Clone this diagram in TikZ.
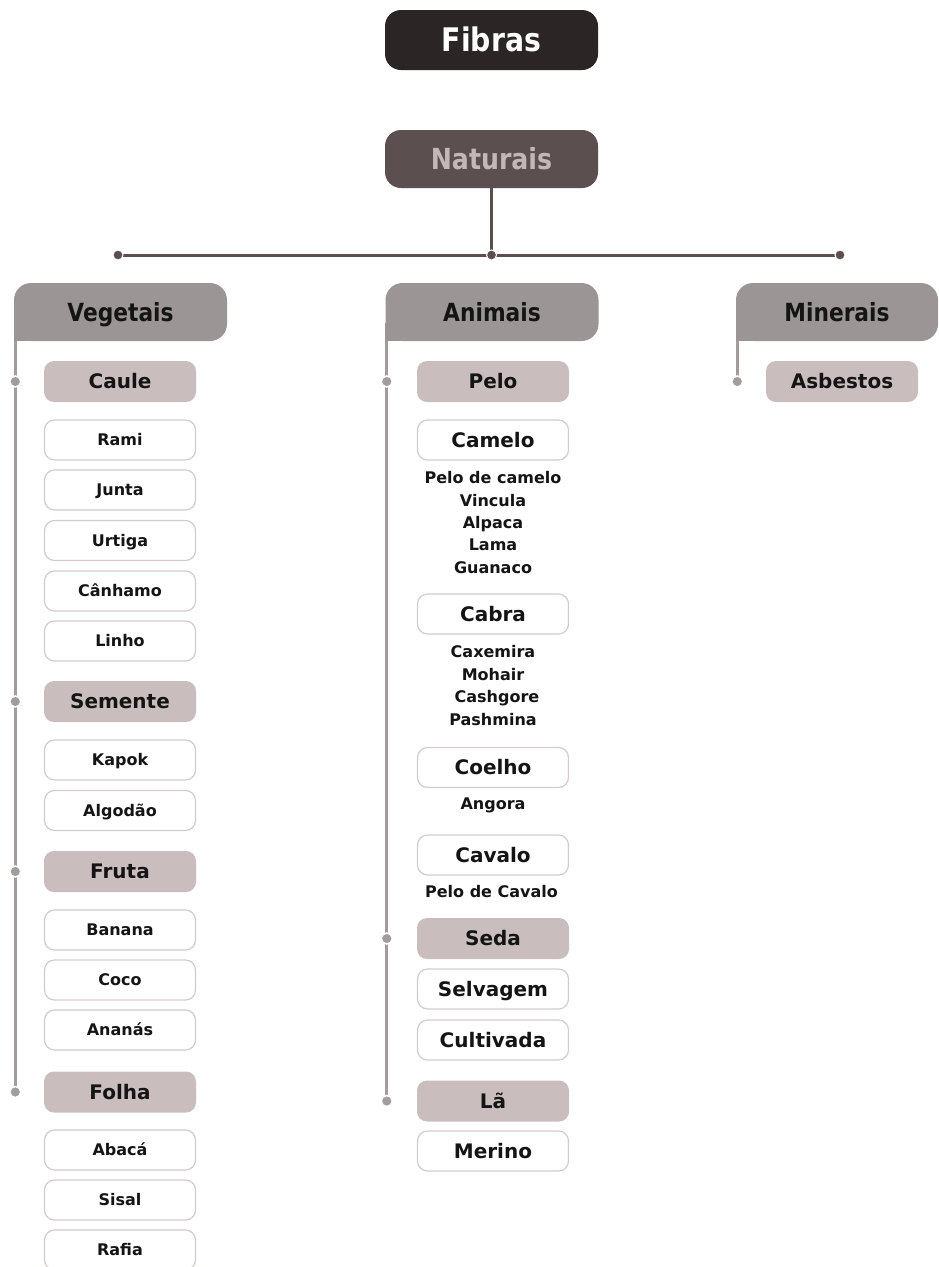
\documentclass[tikz,border=0pt]{standalone}
\usepackage{fontspec}
\setmainfont{DejaVu Sans}
\newfontfamily\narrowfont{DejaVu Sans}[FakeStretch=0.87]
\definecolor{ink}{HTML}{2C2525}
\definecolor{natfill}{HTML}{5B4F4F}
\definecolor{nattext}{HTML}{C3B7B7}
\definecolor{titlefill}{HTML}{9C9595}
\definecolor{catfill}{HTML}{C9BDBD}
\definecolor{itemline}{HTML}{D5CBCB}
\definecolor{hubline}{HTML}{5B4F4F}
\definecolor{branchline}{HTML}{A29C9C}
\definecolor{txt}{HTML}{141414}
\begin{document}
\begin{tikzpicture}[x=1pt,y=-1pt,
  base/.style={inner sep=0pt, text=txt},
  fs/.style={font=\bfseries\fontsize{#1}{#1}\selectfont},
  nfs/.style={font=\narrowfont\bfseries\fontsize{#1}{#1}\selectfont},
  topbox/.style={base, fill=ink, text=white, rounded corners=16pt,
    minimum width=213pt, minimum height=60pt, nfs=32.5, text height=23.7pt, text depth=0pt},
  natbox/.style={base, fill=natfill, text=nattext, rounded corners=16pt,
    minimum width=213pt, minimum height=58pt, nfs=29, text height=21pt, text depth=0pt},
  titlebox/.style={base, fill=titlefill, rounded corners=17pt,
    minimum width=213pt, minimum height=58pt, nfs=25, text height=18.2pt, text depth=0pt},
  catbox/.style={base, fill=catfill, rounded corners=10pt,
    minimum width=152pt, minimum height=41pt, fs=20, text height=14.6pt, text depth=0pt},
  itembox/.style={base, fill=white, draw=itemline, line width=1.2pt, rounded corners=10pt,
    minimum width=151pt, minimum height=40pt, fs=16, text height=11.7pt, text depth=0pt},
  bigitem/.style={itembox, fs=20, text height=14.6pt},
  subtext/.style={base, fs=16, text height=11.7pt, text depth=0pt},
  hub/.style={draw=hubline, line width=3pt},
  branch/.style={draw=branchline, line width=3pt},
  hubdot/.style={fill=hubline, draw=white, line width=1pt, circle, inner sep=0pt, minimum size=10pt},
  branchdot/.style={fill=branchline, draw=white, line width=1.5pt, circle, inner sep=0pt, minimum size=11pt},
]
\useasboundingbox (0,0) rectangle (938,1267);

% top of the tree
\node[topbox] (fibras) at (491.5,40) {Fibras};
\node[natbox] (nat) at (491.5,159) {Naturais};

% main horizontal bar
\coordinate (hubL) at (118,255);
\coordinate (hubC) at (491.5,255);
\coordinate (hubR) at (840,255);
\draw[hub] (nat.south) -- (hubC);
\draw[hub] (hubL) -- (hubR);
\node[hubdot] at (hubL) {};
\node[hubdot] at (hubC) {};
\node[hubdot] at (hubR) {};

% three families
\node[titlebox] (veg) at (120.5,312) {Vegetais};
\node[titlebox] (ani) at (492,312) {Animais};
\node[titlebox, minimum width=202pt] (min) at (837,312) {Minerais};
\foreach \b in {veg,ani,min}{
  \fill[titlefill] (\b.south west) rectangle ++(18,-18);
}

% ---------- Vegetais ----------
\node[catbox] (caule) at (120,381.5) {Caule};
\node[itembox] (rami) at (120,440) {Rami};
\node[itembox] (junta) at (120,490) {Junta};
\node[itembox] (urtiga) at (120,540.5) {Urtiga};
\node[itembox] (canhamo) at (120,591) {Cânhamo};
\node[itembox] (linho) at (120,641) {Linho};
\node[catbox] (semente) at (120,701.5) {Semente};
\node[itembox] (kapok) at (120,760) {Kapok};
\node[itembox] (algodao) at (120,810.5) {Algodão};
\node[catbox] (fruta) at (120,871.5) {Fruta};
\node[itembox] (banana) at (120,930) {Banana};
\node[itembox] (coco) at (120,980) {Coco};
\node[itembox] (ananas) at (120,1030) {Ananás};
\node[catbox] (folha) at (120,1092) {Folha};
\node[itembox] (abaca) at (120,1150) {Abacá};
\node[itembox] (sisal) at (120,1200) {Sisal};
\node[itembox] (rafia) at (120,1250) {Rafia};

\coordinate (vgx) at ([xshift=1.5pt]veg.south west);
\coordinate (vd1) at (vgx |- caule);
\coordinate (vd2) at (vgx |- semente);
\coordinate (vd3) at (vgx |- fruta);
\coordinate (vd4) at (vgx |- folha);
\draw[branch] (vgx) -- (vd4);
\foreach \d in {vd1,vd2,vd3,vd4} \node[branchdot] at (\d) {};

% ---------- Animais ----------
\node[catbox] (pelo) at (493,381.5) {Pelo};
\node[bigitem] (camelo) at (493,440) {Camelo};
\node[subtext] (cam1) at (493,478) {Pelo de camelo};
\node[subtext] (cam2) at (493,500.5) {Vincula};
\node[subtext] (cam3) at (493,523) {Alpaca};
\node[subtext] (cam4) at (493,545) {Lama};
\node[subtext] (cam5) at (493,567.5) {Guanaco};
\node[bigitem] (cabra) at (493,614) {Cabra};
\node[subtext] (cab1) at (493,652) {Caxemira};
\node[subtext] (cab2) at (493,674.5) {Mohair};
\node[subtext] (cab3) at (497,697) {Cashgore};
\node[subtext] (cab4) at (493,720) {Pashmina};
\node[bigitem] (coelho) at (493,767.5) {Coelho};
\node[subtext] (coe1) at (493,803.5) {Angora};
\node[bigitem] (cavalo) at (493,855) {Cavalo};
\node[subtext] (cav1) at (491.5,892) {Pelo de Cavalo};
\node[catbox] (seda) at (493,938.5) {Seda};
\node[bigitem] (selvagem) at (493,989) {Selvagem};
\node[bigitem] (cultivada) at (493,1040) {Cultivada};
\node[catbox] (la) at (493,1101) {Lã};
\node[bigitem] (merino) at (493,1151) {Merino};

\coordinate (anx) at ([xshift=1.5pt]ani.south west);
\coordinate (ad1) at (anx |- pelo);
\coordinate (ad2) at (anx |- seda);
\coordinate (ad3) at (anx |- la);
\draw[branch] (anx) -- (ad3);
\foreach \d in {ad1,ad2,ad3} \node[branchdot] at (\d) {};

% ---------- Minerais ----------
\node[catbox] (asbestos) at (842,381.5) {Asbestos};
\coordinate (mnx) at ([xshift=1.5pt]min.south west);
\coordinate (md1) at (mnx |- asbestos);
\draw[branch] (mnx) -- (md1);
\node[branchdot] at (md1) {};
\end{tikzpicture}
\end{document}
